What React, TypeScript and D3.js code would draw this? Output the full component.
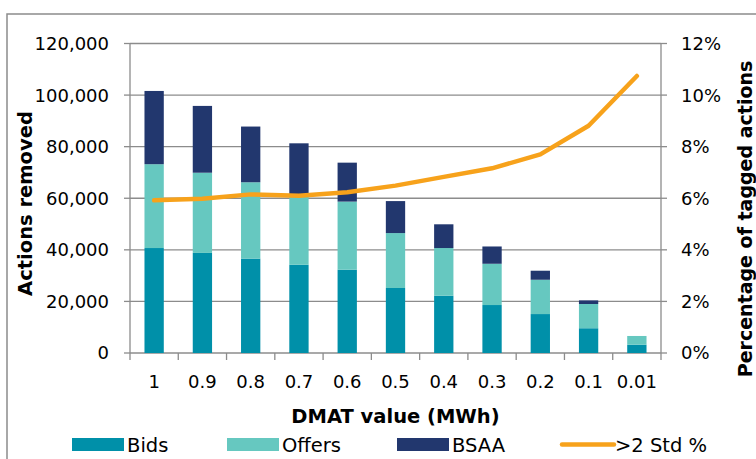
import React from "react";
import * as d3 from "d3";

const categories = ["1", "0.9", "0.8", "0.7", "0.6", "0.5", "0.4", "0.3", "0.2", "0.1", "0.01"];
const bids = [40700, 38800, 36600, 34200, 32300, 25200, 22200, 18600, 15100, 9600, 3200];
const offers = [32500, 31100, 29600, 26300, 26400, 21300, 18500, 16000, 13300, 9400, 3400];
const bsaa = [28400, 25900, 21600, 20800, 15100, 12400, 9200, 6700, 3500, 1400, 0];
const pct = [5.92, 5.98, 6.15, 6.1, 6.23, 6.49, 6.83, 7.16, 7.7, 8.81, 10.74];
const leftTicks = [0, 20000, 40000, 60000, 80000, 100000, 120000];
const rightTicks = [0, 2, 4, 6, 8, 10, 12];

const seriesNames = ["Bids", "Offers", "BSAA"];
const colors = ["#0090A9", "#66C8C0", "#22376E"];
const lineColor = "#F7A21B";
const font = "'DejaVu Sans', Verdana, sans-serif";

export default function App() {
  const W = 756, H = 459;
  const left = 130, right = 661, top = 43.5, bottom = 353;
  const x = d3.scaleBand<string>().domain(categories).range([left, right]).paddingInner(0.6).paddingOuter(0.3);
  const xc = d3.scaleBand<string>().domain(categories).range([left, right]);
  const y = d3.scaleLinear().domain([0, 120000]).range([bottom, top]);
  const y2 = d3.scaleLinear().domain([0, 12]).range([bottom, top]);
  const rows = categories.map((c, i) => ({ c, Bids: bids[i], Offers: offers[i], BSAA: bsaa[i] }));
  const stack = d3.stack<any>().keys(seriesNames)(rows);
  const line = d3.line<number>().x((_, i) => (xc(categories[i]) as number) + xc.bandwidth() / 2).y((d) => y2(d));
  const fmt = d3.format(",");
  const boundaries = d3.range(categories.length + 1).map((i) => left + i * xc.bandwidth());
  const legend = [
    { name: "Bids", x: 72, type: "rect", color: colors[0] },
    { name: "Offers", x: 227, type: "rect", color: colors[1] },
    { name: "BSAA", x: 397, type: "rect", color: colors[2] },
    { name: ">2 Std %", x: 560, type: "line", color: lineColor },
  ];
  return (
    <svg width={W} height={H} style={{ position: "absolute", left: 0, top: 0, background: "#fff" }} fontFamily={font}>
      <rect x={7} y={14} width={760} height={460} fill="#fff" stroke="#8c8c8c" strokeWidth={1.5} />
      {leftTicks.map((t) => (
        <line key={"g" + t} x1={left} x2={right} y1={y(t)} y2={y(t)} stroke="#8c8c8c" strokeWidth={1.3} />
      ))}
      {stack.map((s, si) =>
        s.map((d, i) => (
          <rect key={si + "-" + i} x={x(categories[i])} width={x.bandwidth()} y={y(d[1])} height={Math.max(0, y(d[0]) - y(d[1]))} fill={colors[si]} />
        ))
      )}
      <line x1={left} x2={left} y1={top} y2={bottom} stroke="#8c8c8c" strokeWidth={1.3} />
      <line x1={right} x2={right} y1={top} y2={bottom} stroke="#8c8c8c" strokeWidth={1.3} />
      {leftTicks.map((t) => (
        <g key={"l" + t}>
          <line x1={left - 6} x2={left} y1={y(t)} y2={y(t)} stroke="#8c8c8c" strokeWidth={1.3} />
          <text x={109} y={y(t)} dy="0.36em" textAnchor="end" fontSize={18} fill="#000">{fmt(t)}</text>
        </g>
      ))}
      {rightTicks.map((t) => (
        <g key={"r" + t}>
          <line x1={right} x2={right + 6} y1={y2(t)} y2={y2(t)} stroke="#8c8c8c" strokeWidth={1.3} />
          <text x={681} y={y2(t)} dy="0.36em" textAnchor="start" fontSize={18} fill="#000">{t + "%"}</text>
        </g>
      ))}
      {boundaries.map((b, i) => (
        <line key={"b" + i} x1={b} x2={b} y1={bottom} y2={bottom + 7} stroke="#8c8c8c" strokeWidth={1.3} />
      ))}
      {categories.map((c) => (
        <text key={"c" + c} x={(xc(c) as number) + xc.bandwidth() / 2} y={388} textAnchor="middle" fontSize={18} fill="#000">{c}</text>
      ))}
      <path d={line(pct) || ""} fill="none" stroke={lineColor} strokeWidth={4.5} strokeLinecap="round" strokeLinejoin="round" />
      <text x={395.5} y={423} textAnchor="middle" fontSize={19.5} fontWeight="bold" fill="#000">DMAT value (MWh)</text>
      <text transform="translate(32,203.5) rotate(-90)" textAnchor="middle" fontSize={19.5} fontWeight="bold" fill="#000">Actions removed</text>
      <text transform="translate(752,219) rotate(-90)" textAnchor="middle" fontSize={19} fontWeight="bold" fill="#000">Percentage of tagged actions</text>
      {legend.map((l) => (
        <g key={l.name}>
          {l.type === "rect" ? (
            <rect x={l.x} y={438} width={52} height={13} fill={l.color} />
          ) : (
            <line x1={l.x + 2} x2={l.x + 54} y1={444.5} y2={444.5} stroke={l.color} strokeWidth={4.5} strokeLinecap="round" />
          )}
          <text x={l.x + 55} y={444.5} dy="0.36em" fontSize={19.5} fill="#000">{l.name}</text>
        </g>
      ))}
    </svg>
  );
}
